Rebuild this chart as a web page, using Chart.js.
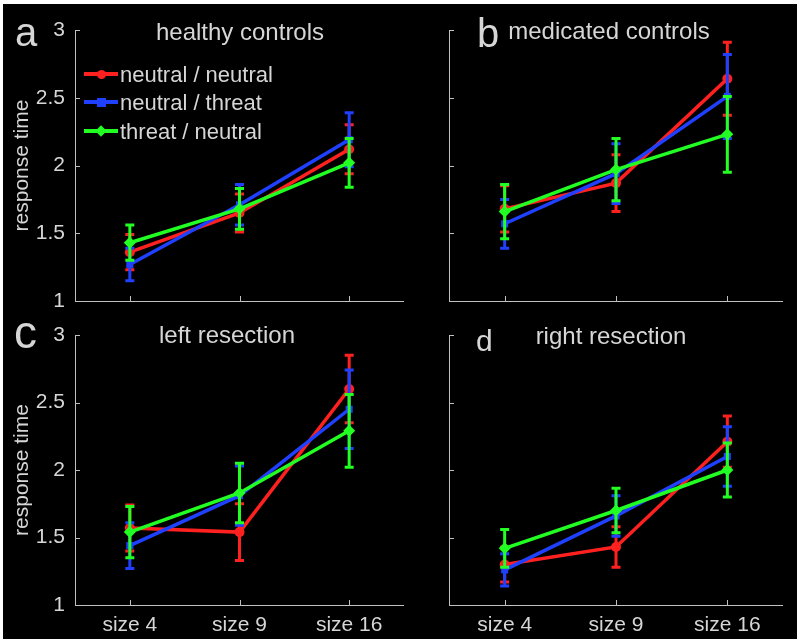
<!DOCTYPE html>
<html>
<head>
<meta charset="utf-8">
<script src="https://cdn.jsdelivr.net/npm/chart.js@4.4.1/dist/chart.umd.min.js"></script>
<style>
  body { margin: 0; background: #fff; width: 800px; height: 643px; overflow: hidden; position: relative; font-family: "Liberation Sans", Arial, sans-serif; }
  #frame { position: absolute; left: 3px; top: 4px; width: 794px; height: 635px; background: #000; }
  canvas { position: absolute; }
  .txt { position: absolute; color: #d6d6d6; line-height: 1; white-space: nowrap; }
</style>
</head>
<body>
<div id="frame"></div>

<script>
const categories = ['size 4', 'size 9', 'size 16']
const seriesNames = ['neutral / neutral', 'neutral / threat', 'threat / neutral']
const yTicks = [1, 1.5, 2, 2.5, 3]

const panelLetters = ['a', 'b', 'c', 'd']
const panelTitles = ['healthy controls', 'medicated controls', 'left resection', 'right resection']

// healthy controls
const healthyNN = [1.36, 1.65, 2.12]
const healthyNNErr = [0.13, 0.14, 0.18]
const healthyNT = [1.27, 1.71, 2.19]
const healthyNTErr = [0.12, 0.15, 0.20]
const healthyTN = [1.43, 1.68, 2.02]
const healthyTNErr = [0.13, 0.15, 0.18]

// medicated controls
const medicatedNN = [1.68, 1.87, 2.64]
const medicatedNNErr = [0.17, 0.21, 0.27]
const medicatedNT = [1.57, 1.94, 2.51]
const medicatedNTErr = [0.18, 0.22, 0.31]
const medicatedTN = [1.66, 1.97, 2.23]
const medicatedTNErr = [0.20, 0.23, 0.28]

// left resection
const leftNN = [1.57, 1.54, 2.60]
const leftNNErr = [0.17, 0.21, 0.25]
const leftNT = [1.44, 1.81, 2.45]
const leftNTErr = [0.17, 0.22, 0.29]
const leftTN = [1.54, 1.83, 2.29]
const leftTNErr = [0.19, 0.22, 0.27]

// right resection
const rightNN = [1.30, 1.43, 2.21]
const rightNNErr = [0.13, 0.15, 0.19]
const rightNT = [1.26, 1.66, 2.10]
const rightNTErr = [0.12, 0.15, 0.22]
const rightTN = [1.42, 1.70, 2.00]
const rightTNErr = [0.14, 0.165, 0.20]

const colors = ['#ff2020', '#2040ff', '#22ff22']
const markers = ['circle', 'rect', 'rectRot']
const markerSizes = [5, 5, 6]
const textColor = '#d6d6d6'
const axisColor = '#c0c0c0'

const axesPlugin = {
    id: 'axes',
    beforeDatasetsDraw(chart) {
        const {ctx, chartArea: a, scales: {x, y}} = chart
        ctx.save()
        ctx.strokeStyle = axisColor
        ctx.lineWidth = 1
        ctx.beginPath()
        ctx.moveTo(a.left + 0.5, a.top)
        ctx.lineTo(a.left + 0.5, a.bottom + 0.5)
        ctx.lineTo(a.right, a.bottom + 0.5)
        for (const t of y.ticks) {
            const py = Math.round(y.getPixelForValue(t.value)) + 0.5
            ctx.moveTo(a.left, py)
            ctx.lineTo(a.left + 5, py)
        }
        categories.forEach((c, i) => {
            const px = Math.round(x.getPixelForValue(i)) + 0.5
            ctx.moveTo(px, a.bottom)
            ctx.lineTo(px, a.bottom - 5)
        })
        ctx.stroke()
        ctx.restore()
    }
}

const errorBarPlugin = {
    id: 'errorBars',
    beforeDatasetDraw(chart, args) {
        const ds = chart.data.datasets[args.index]
        const y = chart.scales.y
        const ctx = chart.ctx
        ctx.save()
        ctx.strokeStyle = ds.borderColor
        ctx.lineWidth = 3
        ctx.beginPath()
        args.meta.data.forEach((pt, i) => {
            const top = y.getPixelForValue(ds.data[i] + ds.errors[i])
            const bot = y.getPixelForValue(ds.data[i] - ds.errors[i])
            ctx.moveTo(pt.x, top)
            ctx.lineTo(pt.x, bot)
            ctx.moveTo(pt.x - 4.5, top)
            ctx.lineTo(pt.x + 4.5, top)
            ctx.moveTo(pt.x - 4.5, bot)
            ctx.lineTo(pt.x + 4.5, bot)
        })
        ctx.stroke()
        ctx.restore()
    }
}

const makeDatasets = (values, errors) => values.map((v, i) => ({
    label: seriesNames[i],
    data: v,
    errors: errors[i],
    borderColor: colors[i],
    backgroundColor: colors[i],
    borderWidth: 3.5,
    pointStyle: markers[i],
    pointRadius: markerSizes[i],
    pointBorderWidth: 0,
    order: 3 - i
}))

const makePanel = (p) => {
    const canvas = document.createElement('canvas')
    canvas.width = p.w
    canvas.height = p.h
    canvas.style.left = p.left + 'px'
    canvas.style.top = p.top + 'px'
    document.body.appendChild(canvas)

    new Chart(canvas.getContext('2d'), {
        type: 'line',
        data: {
            labels: categories,
            datasets: makeDatasets(p.values, p.errors)
        },
        options: {
            responsive: false,
            animation: false,
            layout: {padding: {top: p.padTop, right: p.padRight, bottom: 0, left: 0}},
            plugins: {legend: {display: false}, tooltip: {enabled: false}},
            scales: {
                x: {
                    type: 'category',
                    offset: true,
                    grid: {display: false, drawTicks: false},
                    border: {display: false},
                    ticks: {display: p.showX, color: textColor, font: {family: 'Liberation Sans', size: 21}, padding: 8},
                    afterFit: s => {
                        s.height = p.xHeight
                        s.paddingLeft = 0
                        s.paddingRight = 0
                    }
                },
                y: {
                    min: 1,
                    max: 3,
                    afterBuildTicks: s => { s.ticks = yTicks.map(v => ({value: v})) },
                    grid: {display: false, drawTicks: false},
                    border: {display: false},
                    ticks: {display: p.showY, color: textColor, font: {family: 'Liberation Sans', size: 21}, padding: 10, callback: v => String(v)},
                    title: {display: p.showY, text: 'response time', color: textColor, font: {family: 'Liberation Sans', size: 21}, padding: {top: 10, bottom: 0}},
                    afterFit: s => {
                        s.width = p.yWidth
                        s.paddingTop = 0
                        s.paddingBottom = 0
                    }
                }
            }
        },
        plugins: [axesPlugin, errorBarPlugin]
    })
}

const addText = (str, left, baseline, size, center) => {
    const d = document.createElement('div')
    d.className = 'txt'
    d.textContent = str
    d.style.fontSize = size + 'px'
    d.style.left = left + 'px'
    d.style.top = (baseline - size * 0.8465) + 'px'
    if (center) d.style.transform = 'translateX(-50%)'
    document.body.appendChild(d)
}

makePanel({left: 0, top: 0, w: 410, h: 320, padTop: 30, padRight: 4, xHeight: 19, yWidth: 75, showX: false, showY: true,
    values: [healthyNN, healthyNT, healthyTN], errors: [healthyNNErr, healthyNTErr, healthyTNErr]})
makePanel({left: 400, top: 0, w: 390, h: 320, padTop: 30, padRight: 7, xHeight: 19, yWidth: 49, showX: false, showY: false,
    values: [medicatedNN, medicatedNT, medicatedTN], errors: [medicatedNNErr, medicatedNTErr, medicatedTNErr]})
makePanel({left: 0, top: 320, w: 410, h: 323, padTop: 15, padRight: 4, xHeight: 38, yWidth: 75, showX: true, showY: true,
    values: [leftNN, leftNT, leftTN], errors: [leftNNErr, leftNTErr, leftTNErr]})
makePanel({left: 400, top: 320, w: 390, h: 323, padTop: 15, padRight: 7, xHeight: 38, yWidth: 49, showX: true, showY: false,
    values: [rightNN, rightNT, rightTN], errors: [rightNNErr, rightNTErr, rightTNErr]})

// panel letters and titles
addText(panelLetters[0], 15, 46, 40)
addText(panelLetters[1], 477, 47, 40)
addText(panelLetters[2], 14, 348, 46)
addText(panelLetters[3], 476, 351, 30)
addText(panelTitles[0], 240, 40, 24, true)
addText(panelTitles[1], 609, 39, 24, true)
addText(panelTitles[2], 227, 343, 24, true)
addText(panelTitles[3], 611, 344, 24, true)

// legend (panel a)
const legendRows = [74, 102, 131]
seriesNames.forEach((name, i) => {
    const ly = legendRows[i]
    const line = document.createElement('div')
    line.style.cssText = `position:absolute;left:84px;top:${ly - 2}px;width:34px;height:4px;background:${colors[i]}`
    document.body.appendChild(line)
    const mk = document.createElement('div')
    const s = i === 2 ? 8 : 9
    let css = `position:absolute;left:${101 - s / 2}px;top:${ly - s / 2}px;width:${s}px;height:${s}px;background:${colors[i]};`
    if (i === 0) css += 'border-radius:50%;'
    if (i === 2) css += 'transform:rotate(45deg);'
    mk.style.cssText = css
    document.body.appendChild(mk)
    addText(name, 120, ly + 9, 22)
})
</script>
</body>
</html>
